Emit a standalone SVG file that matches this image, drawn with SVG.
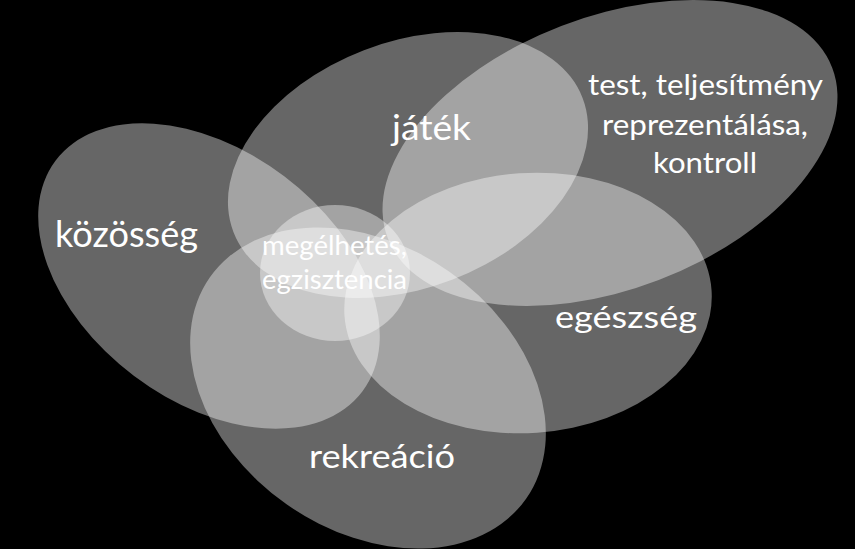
<svg xmlns="http://www.w3.org/2000/svg" width="855" height="549" viewBox="0 0 855 549">
<style>
.bubble{fill:#ffffff;fill-opacity:0.4;stroke:none}
.lbl{fill:#ffffff;font-family:Lato,"Open Sans","DejaVu Sans",sans-serif;text-anchor:middle}
</style>
<rect x="0" y="0" width="855" height="549" fill="#000000"/>
<g id="kozosseg">
<ellipse class="bubble" cx="209" cy="276" rx="192" ry="125" transform="rotate(37 209 276)"/>
<text class="lbl" x="126.5" y="247" font-size="36" textLength="143" lengthAdjust="spacingAndGlyphs">közösség</text>
</g>
<g id="jatek">
<ellipse class="bubble" cx="408" cy="165" rx="187" ry="123" transform="rotate(-21 408 165)"/>
<text class="lbl" x="431.5" y="140" font-size="34" textLength="79" lengthAdjust="spacingAndGlyphs">játék</text>
</g>
<g id="test">
<ellipse class="bubble" cx="610" cy="153" rx="238" ry="136" transform="rotate(-21 610 153)"/>
<text class="lbl" x="705.5" y="95" font-size="28" textLength="235" lengthAdjust="spacingAndGlyphs">test, teljesítmény</text>
<text class="lbl" x="705" y="135" font-size="28" textLength="206" lengthAdjust="spacingAndGlyphs">reprezentálása,</text>
<text class="lbl" x="705" y="173" font-size="28" textLength="104" lengthAdjust="spacingAndGlyphs">kontroll</text>
</g>
<g id="egeszseg">
<ellipse class="bubble" cx="528" cy="303" rx="184" ry="130" transform="rotate(-4 528 303)"/>
<text class="lbl" x="626" y="328" font-size="31" textLength="142" lengthAdjust="spacingAndGlyphs">egészség</text>
</g>
<g id="rekreacio">
<ellipse class="bubble" cx="368" cy="388" rx="193" ry="142" transform="rotate(35 368 388)"/>
<text class="lbl" x="382" y="468" font-size="32" textLength="146" lengthAdjust="spacingAndGlyphs">rekreáció</text>
</g>
<g id="megelhetes">
<ellipse class="bubble" cx="335" cy="273" rx="75" ry="68"/>
<text class="lbl" x="334.5" y="255" font-size="26" textLength="145" lengthAdjust="spacingAndGlyphs">megélhetés,</text>
<text class="lbl" x="334.5" y="289" font-size="26" textLength="145" lengthAdjust="spacingAndGlyphs">egzisztencia</text>
</g>
<g id="connectors"/>
</svg>
